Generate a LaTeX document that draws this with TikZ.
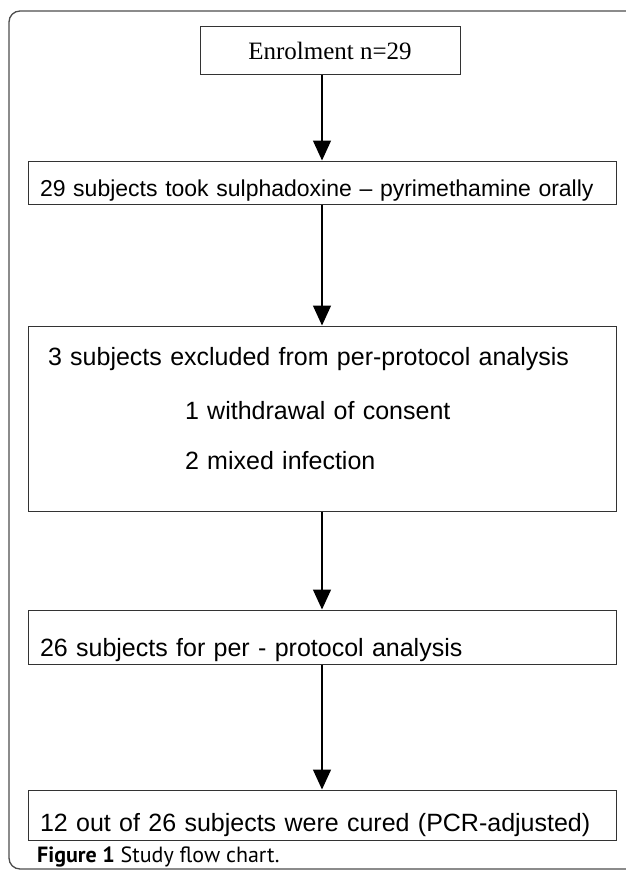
\documentclass[tikz,border=0pt]{standalone}
\usepackage{fontspec}
\usepackage{tikz}
\usetikzlibrary{positioning,arrows.meta}
\newfontfamily\serifbox{Liberation Serif}
\newfontfamily\sansbox{Liberation Sans}
\newfontfamily\captionfnt{PT Sans}
\definecolor{boxline}{HTML}{333333}
\definecolor{frameline}{HTML}{4D4D4D}

\begin{document}
\begin{tikzpicture}[x=1pt, y=-1pt]
\tikzstyle{bx}=[draw=boxline, line width=1pt, inner xsep=12pt, inner ysep=0pt, text width=564pt, align=left, font=\sansbox\fontsize{25}{50}\selectfont]
\tikzstyle{arw}=[line width=1.4pt, -{Triangle[length=20pt, width=18pt]}]
\tikzstyle{frm}=[draw=frameline, line width=1.3pt, rounded corners=11pt]

\useasboundingbox (0,0) rectangle (625,872);
\draw[frm] (9,11) rectangle (660,869);

\node[draw=boxline, line width=1pt, inner sep=0pt, minimum width=260pt, minimum height=48pt, font=\serifbox\fontsize{25}{30}\selectfont] (enrol) at (330,51) {Enrolment n=29};
\node[bx, below=85pt of enrol, xshift=-8pt, text height=35pt, text depth=8pt, font=\sansbox\fontsize{23}{27}\selectfont] (took) {29 subjects took sulphadoxine – pyrimethamine orally};
\node[bx, below=121pt of took, text height=39pt, text depth=146pt] (excl) {\hspace*{8pt}3 subjects excluded from per-protocol analysis\\[4pt]
  \hspace*{145pt}1 withdrawal of consent\\
  \hspace*{145pt}2 mixed infection};
\node[bx, below=98pt of excl, text height=46pt, text depth=8pt] (perp) {26 subjects for per - protocol analysis};
\node[bx, below=125pt of perp, text height=41pt, text depth=9pt] (cured) {12 out of 26 subjects were cured (PCR-adjusted)};

\node[anchor=base west, inner sep=0pt, font=\captionfnt\fontsize{22}{26}\selectfont] (fig) at (37,862) {\textbf{Figure 1} Study flow chart.};

% arrows down the chart
\draw[arw] (enrol.south -| took.north) -- (took.north);
\draw[arw] (took.south) -- (excl.north);
\draw[arw] (excl.south) -- (perp.north);
\draw[arw] (perp.south) -- (cured.north);
\end{tikzpicture}
\end{document}
